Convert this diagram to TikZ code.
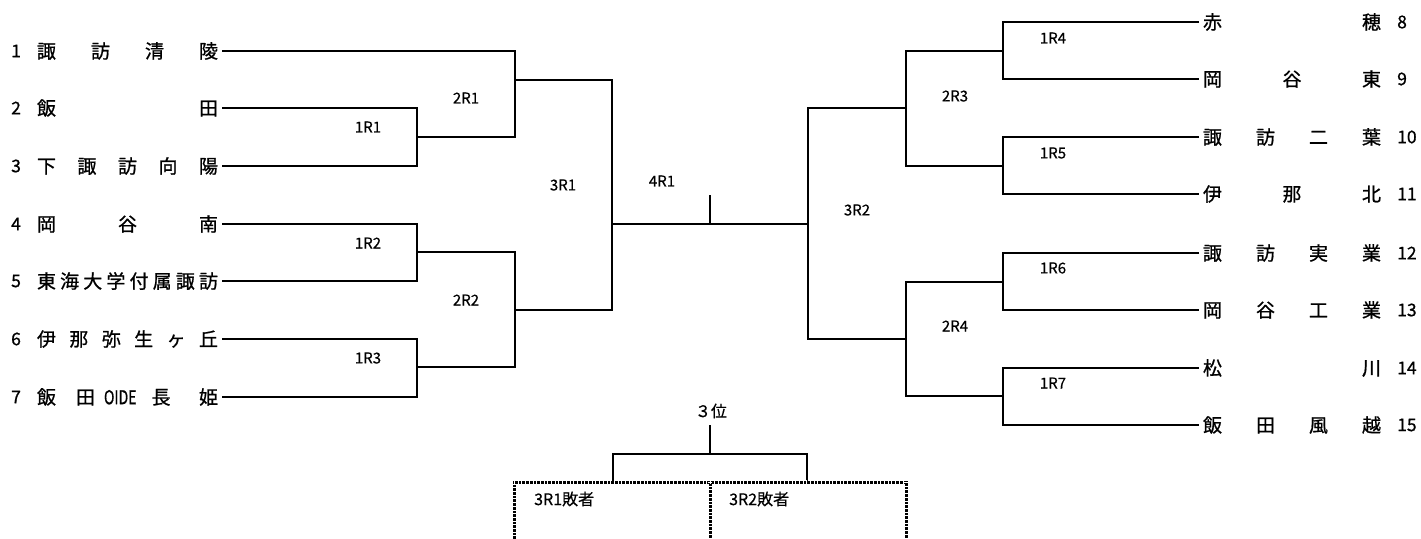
\documentclass[tikz,border=0pt]{standalone}
\usepackage{fontspec}
\usepackage{graphicx}
\setmainfont{Noto Sans CJK JP}
\newfontfamily\namefont{Noto Sans CJK JP}[FakeBold=0.9]
\newfontfamily\lblfont{Noto Sans CJK JP}[FakeBold=0.5]
\begin{document}
\begin{tikzpicture}[x=1pt,y=-1pt,
  br/.style={draw, line width=1.2pt},
  nmL/.style={anchor=west, inner sep=0pt, outer xsep=4pt, font=\namefont\fontsize{19}{19}\selectfont},
  nmR/.style={anchor=west, inner sep=0pt, outer xsep=4pt, font=\namefont\fontsize{19}{19}\selectfont},
  numtxt/.style={anchor=west, inner sep=0pt, font=\namefont\fontsize{17.5}{18}\selectfont},
  lbl/.style={inner sep=0pt, font=\lblfont\fontsize{15}{15}\selectfont},
  dotbase/.style={line width=3pt, black},
  dotgap/.style={line width=3.6pt, white, dash pattern=on 0.9pt off 2.8pt}]
\useasboundingbox (0,0) rectangle (1421,538);

% left names
\node[nmL] (n1) at (33,51)  {\makebox[181pt]{諏\hfill 訪\hfill 清\hfill 陵}};
\node[nmL] (n2) at (33,108) {\makebox[181pt]{飯\hfill 田}};
\node[nmL] (n3) at (33,166) {\makebox[181pt]{下\hfill 諏\hfill 訪\hfill 向\hfill 陽}};
\node[nmL] (n4) at (33,224) {\makebox[181pt]{岡\hfill 谷\hfill 南}};
\node[nmL] (n5) at (33,281) {\makebox[181pt]{東\hfill 海\hfill 大\hfill 学\hfill 付\hfill 属\hfill 諏\hfill 訪}};
\node[nmL] (n6) at (33,339) {\makebox[181pt]{伊\hfill 那\hfill 弥\hfill 生\hfill ヶ\hfill 丘}};
\node[nmL] (n7) at (33,397) {\makebox[181pt][l]{飯\hspace{20pt}田\hspace{9pt}\scalebox{0.74}[1]{OIDE}\hspace{15pt}長\hfill 姫}};
\foreach \i/\y in {1/51,2/108,3/166,4/224,5/281,6/339,7/397}
  \node[numtxt] (k\i) at (11,\y) {\i};

% right names
\node[nmR] (m8)  at (1199,22)  {\makebox[178pt]{赤\hfill 穂}};
\node[nmR] (m9)  at (1199,79)  {\makebox[178pt]{岡\hfill 谷\hfill 東}};
\node[nmR] (m10) at (1199,137) {\makebox[178pt]{諏\hfill 訪\hfill 二\hfill 葉}};
\node[nmR] (m11) at (1199,194) {\makebox[178pt]{伊\hfill 那\hfill 北}};
\node[nmR] (m12) at (1199,253) {\makebox[178pt]{諏\hfill 訪\hfill 実\hfill 業}};
\node[nmR] (m13) at (1199,310) {\makebox[178pt]{岡\hfill 谷\hfill 工\hfill 業}};
\node[nmR] (m14) at (1199,368) {\makebox[178pt]{松\hfill 川}};
\node[nmR] (m15) at (1199,425) {\makebox[178pt]{飯\hfill 田\hfill 風\hfill 越}};
\foreach \i/\y in {8/22,9/79,10/137,11/194,12/253,13/310,14/368,15/425}
  \node[numtxt] (k\i) at (1397,\y) {\i};

% junction coordinates
\coordinate (r11) at (417,137);
\coordinate (r12) at (417,252);
\coordinate (r13) at (417,367);
\coordinate (r21) at (515,80);
\coordinate (r22) at (515,310);
\coordinate (r31) at (612,224);
\coordinate (fin) at (710,224);
\coordinate (fintop) at (710,195);
\coordinate (r32) at (808,224);
\coordinate (r23) at (906,108);
\coordinate (r24) at (906,339);
\coordinate (r14) at (1003,51);
\coordinate (r15) at (1003,166);
\coordinate (r16) at (1003,282);
\coordinate (r17) at (1003,396);

% left bracket
\draw[br] (n2.east) -| (r11) |- (n3.east);
\draw[br] (n4.east) -| (r12) |- (n5.east);
\draw[br] (n6.east) -| (r13) |- (n7.east);
\draw[br] (n1.east) -| (r21) |- (r11);
\draw[br] (r12) -| (r22) |- (r13);
\draw[br] (r21) -| (r31) |- (r22);
% final
\draw[br] (r31) -- (r32);
\draw[br] (fin) -- (fintop);
% right bracket
\draw[br] (m8.west) -| (r14) |- (m9.west);
\draw[br] (m10.west) -| (r15) |- (m11.west);
\draw[br] (m12.west) -| (r16) |- (m13.west);
\draw[br] (m14.west) -| (r17) |- (m15.west);
\draw[br] (r14) -| (r23) |- (r15);
\draw[br] (r16) -| (r24) |- (r17);
\draw[br] (r23) -| (r32) |- (r24);

% round labels
\node[lbl] (l1r1) at (368,127) {1R1};
\node[lbl] (l1r2) at (368,243) {1R2};
\node[lbl] (l1r3) at (368,358) {1R3};
\node[lbl] (l2r1) at (466,98) {2R1};
\node[lbl] (l2r2) at (466,300) {2R2};
\node[lbl] (l3r1) at (563,185) {3R1};
\node[lbl] (l4r1) at (662,181) {4R1};
\node[lbl] (l3r2) at (857,210) {3R2};
\node[lbl] (l2r3) at (955,96) {2R3};
\node[lbl] (l2r4) at (955,326) {2R4};
\node[lbl] (l1r4) at (1053,38) {1R4};
\node[lbl] (l1r5) at (1053,153) {1R5};
\node[lbl] (l1r6) at (1053,268) {1R6};
\node[lbl] (l1r7) at (1053,383) {1R7};

% third place
\node[lbl, font=\lblfont\fontsize{16}{16}\selectfont] (third) at (711,411) {３位};
\coordinate (ttop) at (710,425);
\coordinate (tmid) at (710,454);
\coordinate (b1) at (613,482);
\coordinate (b2) at (807,482);
\draw[br] (ttop) -- (tmid);
\draw[br] (b1) |- (tmid) -| (b2);

% dotted box
\coordinate (dl) at (514,482);
\coordinate (dr) at (906,482);
\coordinate (dm) at (710,482);
\coordinate (dlb) at (514,540);
\coordinate (drb) at (906,540);
\coordinate (dmb) at (710,540);
\draw[dotbase] (dlb) |- (dr) -- (drb);
\draw[dotbase] (dm) -- (dmb);
\draw[dotgap] (dlb) -- (dl);
\draw[dotgap] (dl) -- (dr);
\draw[dotgap] (dr) -- (drb);
\draw[dotgap] (dm) -- (dmb);
\node[lbl, anchor=west, font=\lblfont\fontsize{16}{16}\selectfont] (los1) at (534,499) {3R1敗者};
\node[lbl, anchor=west, font=\lblfont\fontsize{16}{16}\selectfont] (los2) at (729,499) {3R2敗者};
\end{tikzpicture}
\end{document}
